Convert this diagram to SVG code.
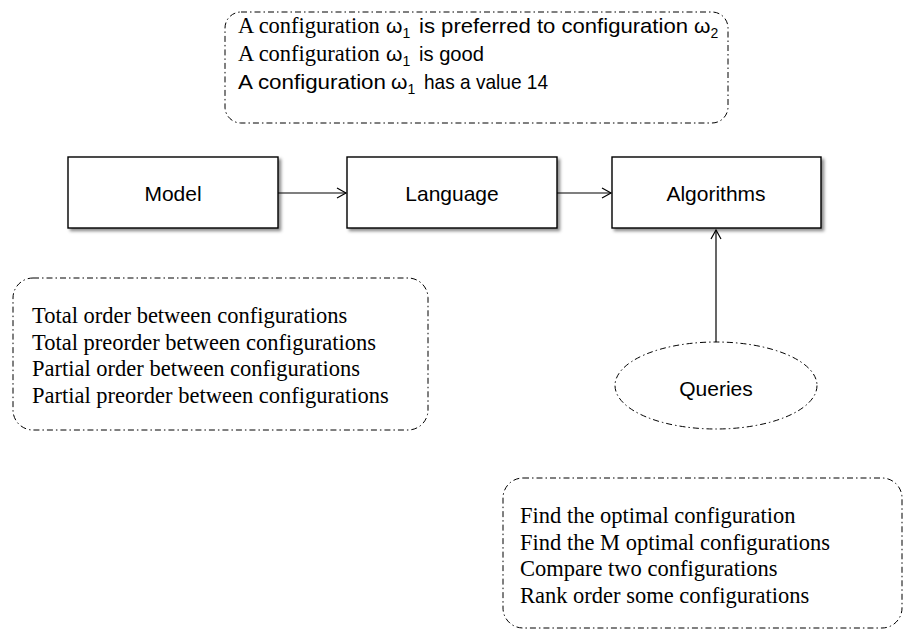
<svg xmlns="http://www.w3.org/2000/svg" width="903" height="630" viewBox="0 0 903 630">
<style>
.note{fill:none;stroke:#000;stroke-width:1;stroke-dasharray:6 3 1.5 3}
.box{fill:#fff;stroke:#000;stroke-width:1.4;filter:url(#sh)}
.sans{font-family:"Liberation Sans",Arial,sans-serif;fill:#000;font-size:21px}
.serif{font-family:"Liberation Serif","Times New Roman",serif;fill:#000;font-size:22.5px}
.sub{font-size:14px}
.lbl{text-anchor:middle}
.conn{stroke:#000;stroke-width:1.2;fill:none;marker-end:url(#arr)}
</style>
<defs>
<marker id="arr" markerWidth="12" markerHeight="12" refX="10" refY="6" orient="auto" markerUnits="userSpaceOnUse">
<path d="M1,1 L10,6 L1,11" fill="none" stroke="#000" stroke-width="1.2"/>
</marker>
<filter id="sh" x="-10%" y="-10%" width="130%" height="140%">
<feDropShadow dx="2.5" dy="2.5" stdDeviation="1.5" flood-color="#000" flood-opacity="0.45"/>
</filter>
</defs>
<rect width="903" height="630" fill="#fff"/>

<g id="note-top">
<rect class="note" x="225" y="12" width="503" height="111" rx="16" ry="16"/>
<text class="serif" x="238" y="33">A configuration</text>
<text class="sans" x="386" y="33">ω<tspan class="sub" dy="5">1</tspan></text>
<text class="sans" x="419" y="33" textLength="269" lengthAdjust="spacingAndGlyphs">is preferred to configuration</text>
<text class="sans" x="694" y="33">ω<tspan class="sub" dy="5">2</tspan></text>
<text class="serif" x="238" y="61">A configuration</text>
<text class="sans" x="386" y="61">ω<tspan class="sub" dy="5">1</tspan></text>
<text class="sans" x="419" y="61" textLength="65" lengthAdjust="spacingAndGlyphs">is good</text>
<text class="sans" x="238" y="89" textLength="148" lengthAdjust="spacingAndGlyphs">A configuration</text>
<text class="sans" x="391" y="89">ω<tspan class="sub" dy="5">1</tspan></text>
<text class="sans" x="424" y="89" textLength="124" lengthAdjust="spacingAndGlyphs">has a value 14</text>
</g>

<g id="model">
<rect class="box" x="68" y="157" width="210" height="71"/>
<text class="sans lbl" x="173" y="201">Model</text>
</g>
<g id="language">
<rect class="box" x="347" y="157" width="210" height="71"/>
<text class="sans lbl" x="452" y="201">Language</text>
</g>
<g id="algorithms">
<rect class="box" x="612" y="157" width="209" height="71"/>
<text class="sans lbl" x="716" y="201">Algorithms</text>
</g>

<g id="note-left">
<rect class="note" x="13" y="278" width="415" height="152" rx="20" ry="20"/>
<text class="serif" x="32" y="323">Total order between configurations</text>
<text class="serif" x="32" y="349.5">Total preorder between configurations</text>
<text class="serif" x="32" y="376">Partial order between configurations</text>
<text class="serif" x="32" y="402.5">Partial preorder between configurations</text>
</g>

<g id="queries">
<ellipse class="note" cx="716" cy="385.5" rx="101" ry="43.5"/>
<text class="sans lbl" x="716" y="396">Queries</text>
</g>

<g id="note-bottom">
<rect class="note" x="503" y="478" width="399" height="150" rx="20" ry="20"/>
<text class="serif" x="520" y="523">Find the optimal configuration</text>
<text class="serif" x="520" y="549.5">Find the M optimal configurations</text>
<text class="serif" x="520" y="576">Compare two configurations</text>
<text class="serif" x="520" y="602.5">Rank order some configurations</text>
</g>

<g id="connectors">
<line class="conn" x1="278" y1="193" x2="346" y2="193"/>
<line class="conn" x1="557" y1="193" x2="611" y2="193"/>
<line class="conn" x1="716" y1="342" x2="716" y2="230"/>
</g>
</svg>
